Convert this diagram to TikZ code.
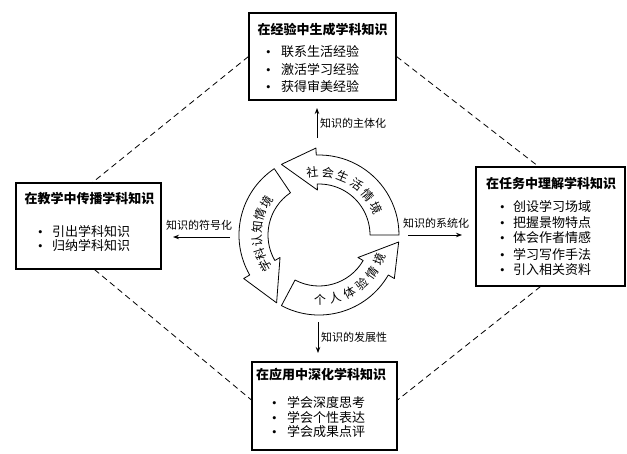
\documentclass[tikz,border=0pt]{standalone}
\usepackage{fontspec}
\setmainfont{Liberation Serif}
\newfontfamily\cjk{Noto Sans CJK SC}
\usetikzlibrary{arrows.meta,calc}
\begin{document}
\begin{tikzpicture}[x=1pt,y=-1pt,
  box/.style={draw,line width=1.1pt,inner sep=0pt},
  ttl/.style={font=\cjk\bfseries\fontsize{13}{15}\selectfont,inner sep=0pt},
  itm/.style={font=\cjk\fontsize{13}{14}\selectfont,anchor=west,inner sep=0pt},
  lbl/.style={font=\cjk\fontsize{11}{12}\selectfont,inner sep=0pt},
  dashln/.style={line width=0.8pt,dash pattern=on 6pt off 4pt},
  conn/.style={line width=0.9pt,-{Stealth[length=6pt,width=4.5pt]}},
  ringarrow/.style={draw,line width=0.8pt,fill=white,line join=round},
  ringtxt/.style={font=\cjk\fontsize{12}{12}\selectfont,inner sep=0pt}
]
\useasboundingbox (0,0) rectangle (627,453);

% boxes
\node[box,minimum width=147pt,minimum height=87pt] (topbox) at (322.5,56.5) {};
\node[box,minimum width=145pt,minimum height=86pt] (leftbox) at (88.5,226) {};
\node[box,minimum width=149pt,minimum height=119pt] (rightbox) at (550.5,226.5) {};
\node[box,minimum width=145pt,minimum height=88pt] (botbox) at (324.5,406) {};

% titles
\node[ttl] (t1) at (322.5,30) {在经验中生成学科知识};
\node[ttl] (t2) at (89.5,199) {在教学中传播学科知识};
\node[ttl] (t3) at (551,184) {在任务中理解学科知识};
\node[ttl] (t4) at (321,375) {在应用中深化学科知识};

% items
\node[itm] (a1) at (266,52) {\makebox[15pt][l]{\rmfamily\textbullet}联系生活经验};
\node[itm] (a2) at (266,69.5) {\makebox[15pt][l]{\rmfamily\textbullet}激活学习经验};
\node[itm] (a3) at (266,87) {\makebox[15pt][l]{\rmfamily\textbullet}获得审美经验};

\node[itm] (b1) at (38,231) {\makebox[14pt][l]{\rmfamily\textbullet}引出学科知识};
\node[itm] (b2) at (38,246) {\makebox[14pt][l]{\rmfamily\textbullet}归纳学科知识};

\node[itm] (c1) at (500,207) {\makebox[13pt][l]{\rmfamily\textbullet}创设学习场域};
\node[itm] (c2) at (500,222.5) {\makebox[13pt][l]{\rmfamily\textbullet}把握景物特点};
\node[itm] (c3) at (500,238) {\makebox[13pt][l]{\rmfamily\textbullet}体会作者情感};
\node[itm] (c4) at (500,254) {\makebox[13pt][l]{\rmfamily\textbullet}学习写作手法};
\node[itm] (c5) at (500,270) {\makebox[13pt][l]{\rmfamily\textbullet}引入相关资料};

\node[itm] (d1) at (272,402) {\makebox[15pt][l]{\rmfamily\textbullet}学会深度思考};
\node[itm] (d2) at (272,417) {\makebox[15pt][l]{\rmfamily\textbullet}学会个性表达};
\node[itm] (d3) at (272,432) {\makebox[15pt][l]{\rmfamily\textbullet}学会成果点评};

% dashed frame
\draw[dashln] (topbox.west) -- ($(leftbox.north)+(4,0)$);
\draw[dashln] (topbox.east) -- ($(rightbox.north)+(-12,0)$);
\draw[dashln] ($(leftbox.south)+(6,0)$) -- ($(botbox.west)+(0,-6)$);
\draw[dashln] ($(rightbox.south)+(-10,0)$) -- ($(botbox.east)+(0,-6)$);

% ring
\begin{scope}[shift={(319,235)},yscale=-1]
  \draw[ringarrow] (0:51) arc[start angle=0,end angle=92,radius=51]
    -- (92:45) -- (118:80) -- (92:87) -- (92:80)
    arc[start angle=92,end angle=0,radius=80] -- cycle;
  \draw[ringarrow] (124:51) arc[start angle=124,end angle=210,radius=51]
    -- (210:45) -- (238:80) -- (210:87) -- (210:80)
    arc[start angle=210,end angle=124,radius=80] -- cycle;
  \draw[ringarrow] (242:51) arc[start angle=242,end angle=330,radius=51]
    -- (330:45) -- (355:80) -- (330:87) -- (330:80)
    arc[start angle=330,end angle=242,radius=80] -- cycle;
  \foreach \c [count=\i from 0] in {社,会,生,活,情,境}
    \node[ringtxt,rotate={96-14.2*\i-90}] (s\i) at ({96-14.2*\i}:63) {\c};
  \foreach \c [count=\i from 0] in {学,科,认,知,情,境}
    \node[ringtxt,rotate={210-12.4*\i-90}] (k\i) at ({210-12.4*\i}:62) {\c};
  \foreach \c [count=\i from 0] in {个,人,体,验,情,境}
    \node[ringtxt,rotate={271+13.4*\i+90}] (p\i) at ({271+13.4*\i}:65) {\c};
\end{scope}

% connectors
\coordinate (ua) at (317,138); \coordinate (ub) at (317,108);
\coordinate (da) at (318,322); \coordinate (db) at (318,353);
\coordinate (la) at (230,237); \coordinate (lb) at (173,237);
\coordinate (ra) at (408,235); \coordinate (rb) at (462,235);
\draw[conn] (ua) -- (ub);
\draw[conn] (da) -- (db);
\draw[conn] (la) -- (lb);
\draw[conn] (ra) -- (rb);

\node[lbl,anchor=west] (l1) at (320,123) {知识的主体化};
\node[lbl,anchor=west] (l2) at (321,337) {知识的发展性};
\node[lbl] (l3) at (199,225) {知识的符号化};
\node[lbl] (l4) at (436,223) {知识的系统化};
\end{tikzpicture}
\end{document}
